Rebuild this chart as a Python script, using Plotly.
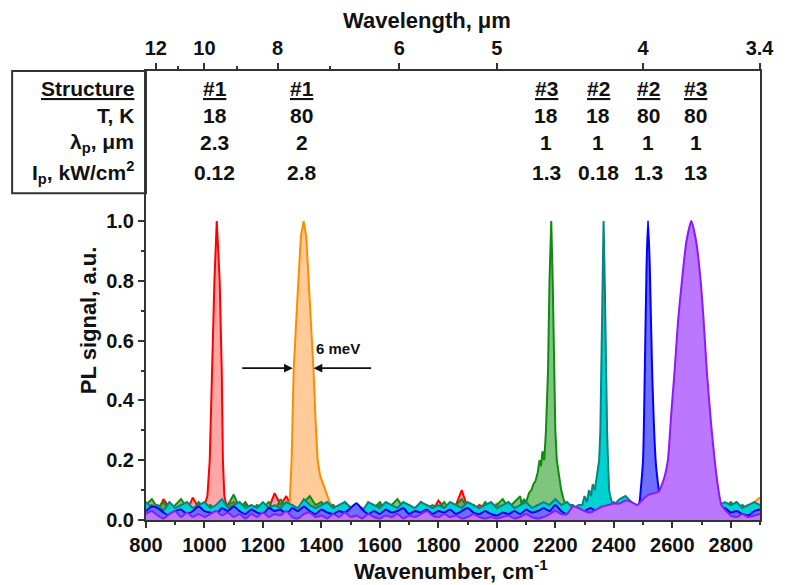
import plotly.graph_objects as go

# ---------------- data ----------------
wn_grid = list(range(800, 2901, 20))  # 106 background sample positions, cm^-1

red_bg = [0.04,0.05,0.03,0.07,0.04,0.03,0.05,0.03,0.075,0.04,
          0.05,0.05,0.05,0.05,0.05,0.06,0.04,0.05,0.03,0.04,
          0.05,0.04,0.09,0.05,0.08,0.04,0.05,0.03,0.04,0.05,
          0.03,0.04,0.05,0.03,0.04,0.03,0.05,0.04,0.03,0.04,
          0.05,0.03,0.04,0.03,0.05,0.04,0.03,0.04,0.05,0.03,
          0.065,0.04,0.03,0.05,0.1,0.04,0.03,0.05,0.04,0.03,
          0.04,0.03,0.05,0.04,0.03,0.04,0.03,0.05,0.04,0.03,
          0.04,0.05,0.03,0.04,0.03,0.05,0.04,0.03,0.04,0.05,
          0.03,0.04,0.05,0.03,0.04,0.03,0.04,0.05,0.03,0.04,
          0.03,0.04,0.05,0.03,0.04,0.03,0.05,0.04,0.03,0.04,
          0.05,0.03,0.04,0.05,0.03,0.04]
red_pk_wn = [1000, 1010, 1018, 1025, 1034, 1042, 1052, 1059, 1063, 1068, 1075]
red_pk_pl = [0.05, 0.08, 0.2, 0.5, 0.8, 1.0, 0.8, 0.5, 0.2, 0.08, 0.05]

orange_bg = [0.03,0.04,0.03,0.04,0.03,0.02,0.04,0.03,0.04,0.03,
             0.03,0.04,0.03,0.04,0.03,0.04,0.03,0.04,0.05,0.04,
             0.03,0.04,0.03,0.04,0.04,0.04,0.04,0.04,0.04,0.04,
             0.04,0.04,0.04,0.03,0.04,0.045,0.04,0.03,0.04,0.05,
             0.04,0.03,0.04,0.03,0.05,0.04,0.03,0.04,0.03,0.04,
             0.03,0.04,0.03,0.04,0.03,0.04,0.03,0.04,0.03,0.04,
             0.055,0.04,0.03,0.04,0.03,0.04,0.03,0.04,0.03,0.04,
             0.03,0.04,0.03,0.04,0.03,0.04,0.03,0.04,0.03,0.04,
             0.03,0.04,0.03,0.04,0.03,0.04,0.03,0.04,0.03,0.04,
             0.03,0.04,0.03,0.04,0.03,0.04,0.03,0.04,0.03,0.04,
             0.04,0.03,0.04,0.04,0.06,0.075]
orange_pk_wn = [1285, 1291, 1298, 1305, 1313, 1321, 1330, 1339, 1348, 1357, 1366,
                1373, 1380, 1387, 1395, 1405, 1417, 1428, 1440]
orange_pk_pl = [0.04, 0.05, 0.2, 0.5, 0.67, 0.8, 0.95, 1.0, 0.95, 0.8, 0.63,
                0.5, 0.33, 0.2, 0.15, 0.12, 0.09, 0.06, 0.04]

green_bg = [0.05,0.07,0.04,0.06,0.03,0.05,0.07,0.04,0.03,0.06,
            0.04,0.05,0.03,0.06,0.05,0.085,0.04,0.06,0.03,0.05,
            0.04,0.06,0.03,0.07,0.04,0.05,0.03,0.06,0.08,0.05,
            0.06,0.04,0.05,0.03,0.06,0.04,0.05,0.03,0.05,0.04,
            0.06,0.03,0.05,0.07,0.04,0.05,0.03,0.06,0.04,0.05,
            0.04,0.06,0.03,0.05,0.07,0.04,0.05,0.03,0.06,0.04,
            0.05,0.07,0.04,0.06,0.08,0.05,0.05,0.05,0.05,0.05,
            0.05,0.05,0.05,0.05,0.03,0.06,0.04,0.05,0.07,0.04,
            0.06,0.04,0.05,0.03,0.04,0.06,0.03,0.04,0.05,0.03,
            0.02,0.03,0.02,0.03,0.02,0.03,0.02,0.03,0.05,0.04,
            0.06,0.04,0.05,0.03,0.05,0.04]
green_pk_wn = [2085, 2092, 2100, 2110, 2118, 2125, 2132, 2140, 2146, 2151, 2156, 2162,
               2168, 2175, 2180, 2186, 2191, 2195, 2200, 2205, 2212, 2220, 2228, 2236]
green_pk_pl = [0.05, 0.07, 0.06, 0.09, 0.1, 0.12, 0.13, 0.16, 0.2, 0.18, 0.23, 0.2,
               0.3, 0.5, 0.8, 1.0, 0.8, 0.5, 0.3, 0.2, 0.15, 0.1, 0.07, 0.05]

teal_bg = [0.06,0.04,0.05,0.03,0.06,0.04,0.05,0.06,0.04,0.05,
           0.06,0.04,0.05,0.07,0.04,0.05,0.06,0.04,0.05,0.04,
           0.06,0.04,0.05,0.04,0.06,0.05,0.04,0.07,0.05,0.04,
           0.05,0.06,0.04,0.05,0.06,0.04,0.05,0.03,0.06,0.05,
           0.04,0.06,0.05,0.04,0.06,0.05,0.04,0.06,0.05,0.04,
           0.05,0.04,0.06,0.05,0.04,0.06,0.05,0.04,0.05,0.06,
           0.04,0.05,0.06,0.04,0.05,0.06,0.04,0.05,0.06,0.05,
           0.07,0.05,0.06,0.04,0.05,0.05,0.05,0.05,0.05,0.05,
           0.05,0.07,0.08,0.06,0.05,0.06,0.04,0.05,0.04,0.05,
           0.03,0.04,0.03,0.04,0.03,0.04,0.03,0.04,0.05,0.06,
           0.05,0.06,0.04,0.05,0.06,0.05]
teal_pk_wn = [2292, 2300, 2308, 2315, 2322, 2328, 2335, 2340, 2345, 2350, 2354, 2357,
              2361, 2365, 2369, 2373, 2377, 2380, 2384, 2390, 2397]
teal_pk_pl = [0.05, 0.08, 0.06, 0.1, 0.08, 0.12, 0.1, 0.13, 0.16, 0.2, 0.3, 0.5,
              0.8, 1.0, 0.8, 0.5, 0.3, 0.2, 0.1, 0.07, 0.05]

blue_bg = [0.03,0.045,0.04,0.025,0.015,0.03,0.035,0.02,0.03,0.045,
           0.03,0.025,0.02,0.04,0.03,0.045,0.03,0.02,0.035,0.025,
           0.02,0.04,0.03,0.035,0.02,0.04,0.03,0.045,0.03,0.02,
           0.035,0.025,0.02,0.03,0.025,0.04,0.056,0.035,0.02,0.03,
           0.02,0.035,0.025,0.03,0.04,0.02,0.03,0.025,0.035,0.02,
           0.03,0.025,0.035,0.02,0.03,0.04,0.025,0.02,0.03,0.02,
           0.015,0.025,0.02,0.03,0.02,0.035,0.025,0.03,0.04,0.03,
           0.05,0.03,0.02,0.035,0.025,0.03,0.04,0.03,0.035,0.03,
           0.04,0.035,0.04,0.03,0.04,0.04,0.04,0.04,0.04,0.04,
           0.02,0.02,0.02,0.02,0.02,0.02,0.02,0.03,0.035,0.04,
           0.025,0.03,0.02,0.015,0.03,0.035]
blue_pk_wn = [2482, 2488, 2492, 2500, 2506, 2512, 2517, 2523, 2531, 2543, 2550, 2556, 2566]
blue_pk_pl = [0.04, 0.06, 0.1, 0.2, 0.5, 0.85, 1.0, 0.85, 0.5, 0.2, 0.13, 0.09, 0.06]

purple_bg = [0.02,0.03,0.015,0.005,0.02,0.03,0.01,0.025,0.01,0.02,
             0.01,0.02,0.03,0.015,0.025,0.01,0.02,0.005,0.02,0.01,
             0.025,0.01,0.02,0.015,0.03,0.01,0.005,0.02,0.025,0.01,
             0.015,0.005,0.02,0.01,0.025,0.01,0.015,0.005,0.02,0.01,
             0.005,0.015,0.01,0.02,0.005,0.015,0.01,0.02,0.03,0.015,
             0.01,0.02,0.01,0.015,0.005,0.01,0.02,0.01,0.005,0.01,
             0.005,0.01,0.015,0.005,0.01,0.02,0.01,0.005,0.01,0.02,
             0.03,0.02,0.02,0.045,0.04,0.03,0.025,0.035,0.045,0.05,
             0.055,0.055,0.065,0.06,0.05,0.07,0.085,0.09,0.09,0.09,
             0.09,0.09,0.09,0.09,0.09,0.09,0.09,0.09,0.09,0.09,
             0.015,0.01,0.02,0.01,0.015,0.02]
purple_pk_wn = [2554, 2565, 2575, 2585, 2596, 2608, 2620, 2633, 2648, 2665, 2682, 2697,
                2707, 2718, 2732, 2745, 2758, 2768, 2780, 2795]
purple_pk_pl = [0.095, 0.12, 0.15, 0.2, 0.35, 0.5, 0.67, 0.8, 0.93, 1.0, 0.93, 0.8,
                0.67, 0.5, 0.33, 0.2, 0.1, 0.05, 0.035, 0.02]

# table
table_wn = [1035, 1332, 2169, 2346, 2517, 2681]
structures = ['#1', '#1', '#3', '#2', '#2', '#3']
temps_K = ['18', '80', '18', '18', '80', '80']
lambda_p = ['2.3', '2', '1', '1', '1', '1']
I_p = ['0.12', '2.8', '1.3', '0.18', '1.3', '13']
row_labels = ['<u>Structure</u>', 'T, K', '\u03bb<sub>p</sub>, \u03bcm',
              'I<sub>p</sub>, kW/cm<sup>2</sup>']

# top axis (wavelength, um)
top_wl = [12, 10, 8, 6, 5, 4, 3.45]
top_labels = ['12', '10', '8', '6', '5', '4', '3.4']
top_minor_wl = [11, 9, 7]

x_ticks = list(range(800, 2801, 200))
y_ticks = [0.0, 0.2, 0.4, 0.6, 0.8, 1.0]
y_minor = [0.1, 0.3, 0.5, 0.7, 0.9]

fwhm_bounds = [1302, 1373]
fwhm_tails = [1124, 1575]
fwhm_y = 0.508
fwhm_label = '6 meV'


def merge(bg, pk_x, pk_y):
    pts = [(x, y) for x, y in zip(wn_grid, bg) if x < pk_x[0] or x > pk_x[-1]]
    pts += list(zip(pk_x, pk_y))
    pts.sort()
    return [p[0] for p in pts], [p[1] for p in pts]


series = [
    ('#1 18 K', red_bg, red_pk_wn, red_pk_pl, '#FF0000', 'rgba(255,60,60,0.45)', 'linear'),
    ('#1 80 K', orange_bg, orange_pk_wn, orange_pk_pl, '#FF8C00', '#FFCC99', 'linear'),
    ('#3 18 K', green_bg, green_pk_wn, green_pk_pl, '#138A13', 'rgba(40,160,40,0.6)', 'linear'),
    ('#2 18 K', teal_bg, teal_pk_wn, teal_pk_pl, '#0A8383', '#00D2D2', 'linear'),
    ('#2 80 K', blue_bg, blue_pk_wn, blue_pk_pl, '#0000FF', '#6E6EFF', 'spline'),
    ('#3 80 K', purple_bg, purple_pk_wn, purple_pk_pl, '#8A1AFF', '#BB77FF', 'spline'),
]

FONT = 'Liberation Sans, Arial, sans-serif'
fig = go.Figure()
for name, bg, px_, py_, lc, fc, shape in series:
    xs, ys = merge(bg, px_, py_)
    fig.add_trace(go.Scatter(x=xs, y=ys, mode='lines', name=name,
                             line=dict(color=lc, width=2, shape=shape, smoothing=0.6),
                             fill='tozeroy', fillcolor=fc, showlegend=False))

# invisible trace to activate the top axis
fig.add_trace(go.Scatter(x=[800, 2900], y=[0, 0], xaxis='x2', mode='lines',
                         line=dict(width=0), hoverinfo='skip', showlegend=False))

tick_font = dict(family=FONT, size=20, color='#111', weight='bold')
common = dict(ticks='outside', ticklen=6, tickwidth=1.5, tickcolor='#333',
              showline=True, linewidth=2, linecolor='#333', showgrid=False,
              zeroline=False, tickfont=tick_font, automargin=False)
minor_common = dict(ticks='outside', ticklen=3, tickwidth=1.5, tickcolor='#333',
                    showgrid=False)
fig.update_layout(
    width=781, height=577,
    margin=dict(l=138, r=29, t=63, b=65),
    paper_bgcolor='white', plot_bgcolor='white',
    font=dict(family=FONT, color='#111'),
    xaxis=dict(range=[800, 2900], tickvals=x_ticks, **common,
               minor=dict(dtick=100, tick0=900, **minor_common)),
    xaxis2=dict(range=[800, 2900], overlaying='x', side='top',
                tickvals=[1e4 / w for w in top_wl], ticktext=top_labels, **common,
                minor=dict(tickmode='array', tickvals=[1e4 / w for w in top_minor_wl],
                           **minor_common)),
    yaxis=dict(range=[0, 1.502], tickvals=y_ticks, tickformat='.1f', mirror=True,
               **common,
               minor=dict(tickmode='array', tickvals=y_minor, **minor_common)),
)

ann = []
title_font = dict(family=FONT, size=22, weight='bold', color='#111')
# axis titles
ann.append(dict(text='Wavelength, \u03bcm', xref='paper', yref='paper', x=0.458, y=1.112,
                xanchor='center', yanchor='middle', showarrow=False, font=title_font))
ann.append(dict(text='Wavenumber, cm<sup>-1</sup>', xref='paper', yref='paper', x=0.497,
                y=-0.112, xanchor='center', yanchor='middle', showarrow=False,
                font=title_font))
ann.append(dict(text='PL signal, a.u.', xref='paper', yref='paper', x=-0.0945, y=0.445,
                xanchor='center', yanchor='middle', textangle=-90, showarrow=False,
                font=title_font))

# table
row_y = [0.962, 0.900, 0.840, 0.773]
tfont = dict(family=FONT, size=21, weight='bold', color='#111')
for lab, ry in zip(row_labels, row_y):
    ann.append(dict(text=lab, xref='paper', yref='paper', x=-0.016, y=ry,
                    xanchor='right', yanchor='middle', showarrow=False, font=tfont))
for col, vals in enumerate(zip(structures, temps_K, lambda_p, I_p)):
    for r, (v, ry) in enumerate(zip(vals, row_y)):
        txt = '<u>' + v + '</u>' if r == 0 else v
        ann.append(dict(text=txt, x=table_wn[col], xref='x', yref='paper', y=ry,
                        xanchor='center', yanchor='middle', showarrow=False, font=tfont))

# FWHM arrows
for head, tail in zip(fwhm_bounds, fwhm_tails):
    ann.append(dict(x=head, y=fwhm_y, ax=tail, ay=fwhm_y, xref='x', yref='y',
                    axref='x', ayref='y', text='', showarrow=True, arrowhead=2,
                    arrowsize=1.1, arrowwidth=1.6, arrowcolor='#111'))
ann.append(dict(text=fwhm_label, x=1458, y=0.575, xref='x', yref='y', showarrow=False,
                xanchor='center', yanchor='middle',
                font=dict(family=FONT, size=15, weight='bold', color='#111')))
fig.update_layout(annotations=ann)

fig.add_shape(type='rect', xref='paper', yref='paper', x0=-0.218, x1=0, y0=0.728, y1=1,
              line=dict(color='#333', width=2))

fig.write_html('out.html')
